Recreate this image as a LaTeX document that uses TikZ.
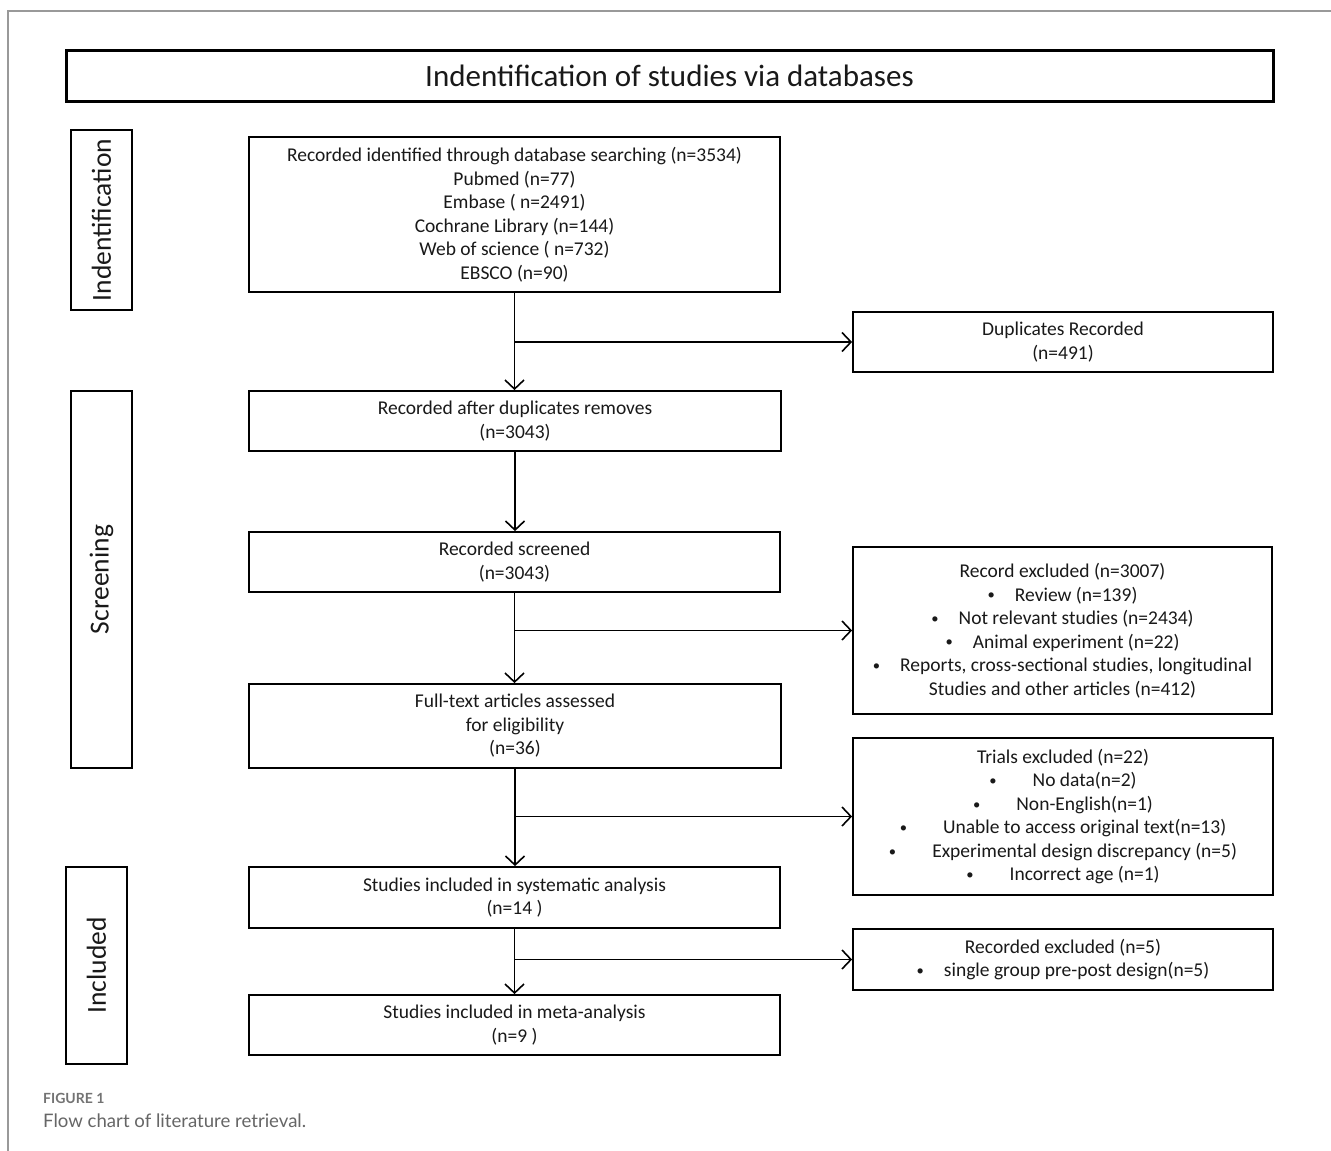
\documentclass[tikz,border=0pt]{standalone}
\usepackage{fontspec}
\setmainfont{Carlito}
\newfontfamily\capfont{Lato}
\usetikzlibrary{arrows.meta}
\newcommand{\bul}{\raisebox{0.12ex}{\scalebox{0.75}{\textbullet}}}
\begin{document}
\begin{tikzpicture}[x=1pt,y=-1pt,
  box/.style={draw=black,line width=1.8pt,inner sep=0pt,align=center,
    font=\fontsize{19.5}{23.5}\selectfont,text=black!90},
  side/.style={box,rotate=90,font=\fontsize{27.5}{30}\selectfont},
  arr/.style={line width=1.8pt,-{Straight Barb[length=9pt,width=19pt,line width=1.6pt]}}]
\useasboundingbox (0,0) rectangle (1331,1151);
\fill[white] (0,0) rectangle (1331,1151);
% outer frame
\draw[black!40,line width=1.4pt] (1331,11) -- (8,11) -- (8,1151);
% title
\node[box,line width=3pt,minimum width=1207pt,minimum height=51pt,font=\fontsize{31}{34}\selectfont] (title) at (669.5,75.5) {Indentification of studies via databases};
% side labels
\node[side,minimum width=180pt,minimum height=61pt] (sid) at (101.5,220) {Indentification};
\node[side,minimum width=377pt,minimum height=61pt] (sscr) at (101.5,579.5) {Screening};
\node[side,minimum width=197pt,minimum height=61pt] (sinc) at (96.5,965.5) {Included};
% main boxes
\node[box,minimum width=531pt,minimum height=155pt] (b1) at (514.5,214.5) {Recorded identified through database searching (n=3534)\\Pubmed (n=77)\\Embase ( n=2491)\\Cochrane Library (n=144)\\Web of science ( n=732)\\EBSCO (n=90)};
\node[box,minimum width=532pt,minimum height=60pt] (b2) at (515,421) {Recorded after duplicates removes\\(n=3043)};
\node[box,minimum width=531pt,minimum height=60pt] (b3) at (514.5,562) {Recorded screened\\(n=3043)};
\node[box,minimum width=532pt,minimum height=84pt] (b4) at (515,726) {Full-text articles assessed\\for eligibility\\(n=36)};
\node[box,minimum width=531pt,minimum height=61pt] (b5) at (514.5,897.5) {Studies included in systematic analysis\\(n=14 )};
\node[box,minimum width=531pt,minimum height=60pt] (b6) at (514.5,1025) {Studies included in meta-analysis\\(n=9 )};
% side boxes
\node[box,minimum width=420pt,minimum height=60pt] (dup) at (1063,342) {Duplicates Recorded\\(n=491)};
\node[box,minimum width=419pt,minimum height=167pt] (ex1) at (1062.5,630.5) {Record excluded (n=3007)\\\bul\hspace{20pt}Review (n=139)\\\bul\hspace{20pt}Not relevant studies (n=2434)\\\bul\hspace{20pt}Animal experiment (n=22)\\\bul\hspace{20pt}Reports, cross-sectional studies, longitudinal\\Studies and other articles (n=412)};
\node[box,minimum width=420pt,minimum height=157pt] (ex2) at (1063,816.5) {Trials excluded (n=22)\\\bul\hspace{36pt}No data(n=2)\\\bul\hspace{36pt}Non-English(n=1)\\\bul\hspace{36pt}Unable to access original text(n=13)\\\bul\hspace{36pt}Experimental design discrepancy (n=5)\\\bul\hspace{36pt}Incorrect age (n=1)};
\node[box,minimum width=420pt,minimum height=61pt] (ex3) at (1063,959.5) {Recorded excluded (n=5)\\\bul\hspace{20pt}single group pre-post design(n=5)};
% branch points
\coordinate (j1) at (b1.south |- dup.west);
\coordinate (j2) at (b3.south |- ex1.west);
\coordinate (j3) at (b4.south |- ex2.west);
\coordinate (j4) at (b5.south |- ex3.west);
% connectors
\draw[arr] (b1.south) -- (b1.south |- b2.north);
\draw[arr] (j1) -- (dup.west);
\draw[arr] (b2.south) -- (b2.south |- b3.north);
\draw[arr] (b3.south) -- (b3.south |- b4.north);
\draw[arr] (j2) -- (ex1.west);
\draw[arr] (b4.south) -- (b4.south |- b5.north);
\draw[arr] (j3) -- (ex2.west);
\draw[arr] (b5.south) -- (b5.south |- b6.north);
\draw[arr] (j4) -- (ex3.west);
% caption
\node[anchor=base west,inner sep=0pt,font=\capfont\bfseries\fontsize{14}{16}\selectfont,text=black!55] (fig) at (43,1103) {FIGURE 1};
\node[anchor=base west,inner sep=0pt,font=\capfont\fontsize{18.6}{21}\selectfont,text=black!60] (cap) at (43,1127) {Flow chart of literature retrieval.};
\end{tikzpicture}
\end{document}
